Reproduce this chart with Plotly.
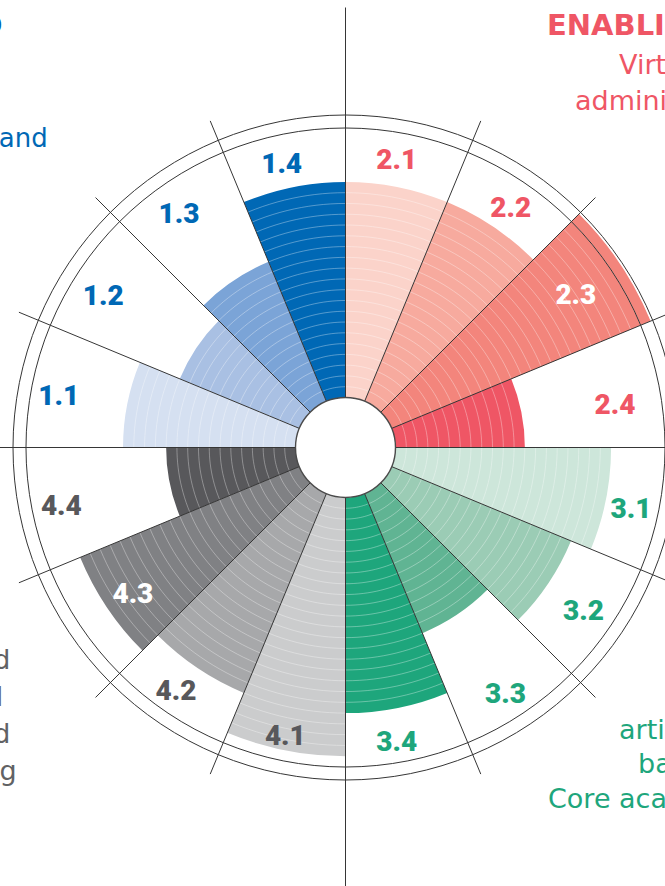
import numpy as np
import plotly.graph_objects as go

# ---------------- data ----------------
categories = ["2.1", "2.2", "2.3", "2.4",
              "3.1", "3.2", "3.3", "3.4",
              "4.1", "4.2", "4.3", "4.4",
              "1.1", "1.2", "1.3", "1.4"]
scores = [20, 20, 26, 12,
          20, 18, 14, 20,
          24, 20, 22, 12,
          16, 12, 14, 20]
scale_max = 25

# ---------------- styles / label placement ----------------
bar_colors = ["#fbd3ca", "#f7aa9e", "#f3857c", "#ef5665",
              "#cde6da", "#9bccb5", "#60b493", "#1ea67c",
              "#cbcccd", "#a7a8aa", "#808184", "#58585b",
              "#d5e0f1", "#a9c0e3", "#7ba4d7", "#0068b5"]
RED, GREEN, GRAY, BLUE = "#ef5665", "#1ea67c", "#58585b", "#0068b5"
TXTGRAY = "#616264"
label_colors = [RED, RED, "white", RED,
                GREEN, GREEN, GREEN, GREEN,
                GRAY, GRAY, "white", GRAY,
                BLUE, BLUE, BLUE, BLUE]
label_radius = [22.24, 22.22, 20.87, 20.65,
                22.49, 22.27, 22.75, 23.25,
                22.87, 23.05, 19.41, 22.31,
                22.35, 21.75, 21.83, 22.10]
label_theta = [10.2, 34.8, 56.9, 81.4,
               102.6, 124.9, 147.2, 170.2,
               191.7, 214.6, 235.1, 258.0,
               279.7, 301.6, 324.3, 347.2]

W, H = 665, 886
CX, CY, R, HOLE = 345.5, 447.5, 319.5, 50.0     # pixel geometry of the wheel
UNIT = (R - HOLE) / scale_max                   # px per score unit
R2 = 340.0                                       # radius of the overflow wedge subplot
n = len(categories)
step = 360.0 / n
centers = [i * step + step / 2 for i in range(n)]
LINE = "#363636"
LABEL_FONT = "Roboto"
SIDE_FONT = "DejaVu Sans"

fig = go.Figure()


def add_wheel(sub):
    fig.add_trace(go.Barpolar(r=scores, theta=centers, width=[step] * n,
                              marker=dict(color=bar_colors, line=dict(width=0)),
                              hoverinfo="skip", showlegend=False, subplot=sub))
    ar, at = [], []
    for i, v in enumerate(scores):
        t = np.linspace(i * step, (i + 1) * step, 14)
        for k in range(1, v):
            ar += [k] * t.size + [None]
            at += list(t) + [None]
    fig.add_trace(go.Scatterpolar(r=ar, theta=at, mode="lines",
                                  line=dict(color="rgba(255,255,255,0.42)", width=0.8),
                                  connectgaps=False, cliponaxis=True,
                                  hoverinfo="skip", showlegend=False, subplot=sub))
    fig.add_trace(go.Scatterpolar(r=label_radius, theta=label_theta, mode="text",
                                  text=categories,
                                  textfont=dict(family=LABEL_FONT, size=28,
                                                color=label_colors, weight=900),
                                  cliponaxis=True, hoverinfo="skip",
                                  showlegend=False, subplot=sub))


add_wheel("polar")
add_wheel("polar2")

# second subplot: the wedge of bar 2.3 with a larger radius, so the bar that
# passes the outer (25) ring is drawn in full
s0, s1 = 22.5, 45.0
bw = np.cos(np.radians(s0))
bh = np.sin(np.radians(s1))

axis_common = dict(
    angularaxis=dict(rotation=90, direction="clockwise", showgrid=False,
                     showticklabels=False, ticks="", showline=False),
    bgcolor="rgba(0,0,0,0)",
)
fig.update_layout(
    width=W, height=H,
    margin=dict(l=0, r=0, t=0, b=0),
    paper_bgcolor="white",
    showlegend=False,
    polar=dict(
        domain=dict(x=[(CX - R) / W, (CX + R) / W],
                    y=[(H - CY - R) / H, (H - CY + R) / H]),
        hole=HOLE / R,
        radialaxis=dict(range=[0, scale_max], visible=False),
        **axis_common,
    ),
    polar2=dict(
        domain=dict(x=[CX / W, (CX + R2 * bw) / W],
                    y=[(H - CY) / H, (H - CY + R2 * bh) / H]),
        sector=[s0, s1],
        hole=HOLE / R2,
        radialaxis=dict(range=[0, (R2 - HOLE) / UNIT], visible=False),
        **axis_common,
    ),
)


# ---------------- frame: spokes, rings, hole ----------------
def px(x, y):
    return x / W, 1 - y / H


shapes = []
for j in range(n):
    a = np.radians(j * step)
    L = 440.0 if j % 4 == 0 else 353.5
    x0, y0 = px(CX + HOLE * np.sin(a), CY - HOLE * np.cos(a))
    x1, y1 = px(CX + L * np.sin(a), CY - L * np.cos(a))
    shapes.append(dict(type="line", xref="paper", yref="paper", x0=x0, y0=y0,
                       x1=x1, y1=y1, line=dict(color=LINE, width=1)))
for rr, col, w in [(R, LINE, 1), (332.5, LINE, 1), (HOLE, "#4a4a4a", 1.4)]:
    x0, y0 = px(CX - rr, CY + rr)
    x1, y1 = px(CX + rr, CY - rr)
    shapes.append(dict(type="circle", xref="paper", yref="paper", x0=x0, y0=y0,
                       x1=x1, y1=y1, line=dict(color=col, width=w)))
fig.update_layout(shapes=shapes)

# ---------------- side texts (partly outside the picture) ----------------
side = [
    # text, x px, y px(center), anchor, color, bold, size
    ("STUDENT-CENTRED", 5, 25, "right", BLUE, True, 28),
    ("Learning, teaching and", 50, 138, "right", BLUE, False, 26),
    ("ENABLING FOUNDATIONS", 545, 25, "left", RED, True, 29),
    ("Virtual and digital", 617, 64, "left", RED, False, 27),
    ("administration services", 573, 101, "left", RED, False, 27),
    ("Connected", 12, 659, "right", TXTGRAY, False, 27),
    ("global", 5, 696, "right", TXTGRAY, False, 27),
    ("engaged", 12, 733, "right", TXTGRAY, False, 27),
    ("thinking", 19, 770, "right", TXTGRAY, False, 27),
    ("artistic research", 617, 729, "left", GREEN, False, 27),
    ("based learning", 636, 763, "left", GREEN, False, 27),
    ("Core academic activities", 546, 798, "left", GREEN, False, 27),
]
for txt, x, y, anc, col, bold, size in side:
    fig.add_annotation(text=txt, x=x / W, y=1 - y / H, xref="paper", yref="paper",
                       xanchor=anc, yanchor="middle", showarrow=False,
                       font=dict(family=SIDE_FONT, size=size, color=col,
                                 weight=700 if bold else 400))

fig.write_html("out.html", config={"displayModeBar": False},
               post_script="document.body.style.margin='0px';")
